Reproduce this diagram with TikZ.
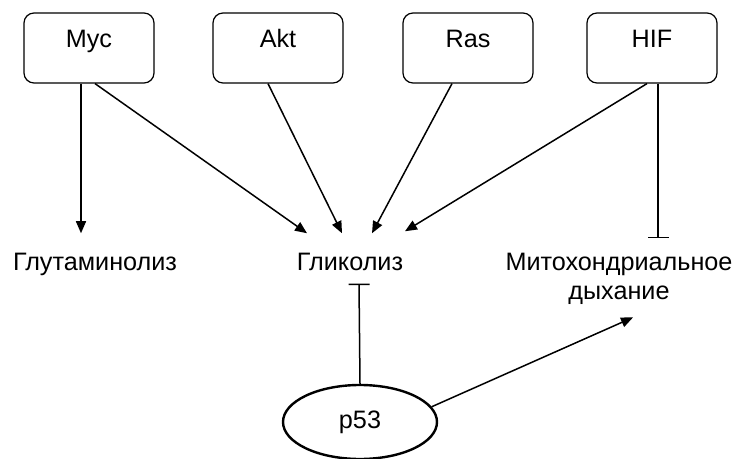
\documentclass[tikz,border=0pt]{standalone}
\usepackage{fontspec}
\setmainfont{Liberation Sans}
\usetikzlibrary{arrows.meta,shapes.geometric}
\begin{document}
\begin{tikzpicture}[x=0.5pt,y=-0.5pt,
    every node/.style={font=\fontsize{12.6}{14.5}\selectfont},
    gene/.style={draw,rounded corners=5pt,line width=0.6pt,minimum width=65pt,
        minimum height=35pt,text height=9pt,text depth=9pt},
    proc/.style={align=center,inner xsep=2pt,inner ysep=10pt},
    act/.style={line width=0.75pt,-{Triangle[length=6pt,width=5pt]}},
    inh/.style={line width=0.75pt,-{Bar[width=10.5pt,line width=0.75pt]}}]
    \useasboundingbox (0,0) rectangle (738,459);

    % Regulators
    \node[gene] (myc) at (89,48) {Myc};
    \node[gene] (akt) at (278,48) {Akt};
    \node[gene] (ras) at (468,48) {Ras};
    \node[gene] (hif) at (652,48) {HIF};

    % Processes
    \node[proc,anchor=base] (glut) at (95,271) {Глутаминолиз};
    \node[proc,anchor=base] (glyc) at (350,271) {Гликолиз};
    \node[proc,anchor=base] (mito) at (619,300) {Митохондриальное\\дыхание};

    % p53
    \node[draw,ellipse,line width=1.2pt,minimum width=77pt,minimum height=37pt,
        inner sep=0pt] (p53) at (360,422) {p53};

    % Activation
    \draw[act] ([xshift=-4pt]myc.south) -- ([xshift=-7pt]glut.north);
    \draw[act] ([xshift=3pt]myc.south) -- ([xshift=-21.5pt]glyc.north);
    \draw[act] ([xshift=-5pt]akt.south) -- ([xshift=-4pt]glyc.north);
    \draw[act] ([xshift=-8pt]ras.south) -- ([xshift=11pt]glyc.north);
    \draw[act] ([xshift=-2.5pt]hif.south) -- ([xshift=27.5pt,yshift=1pt]glyc.north);
    \draw[act] (p53.12) -- ([xshift=7pt,yshift=4pt]mito.south);

    % Inhibition
    \draw[inh] ([xshift=3pt]hif.south) -- ([xshift=19.5pt,yshift=-2.5pt]mito.north);
    \draw[inh] (p53.north) -- ([xshift=4.5pt,yshift=4pt]glyc.south);
\end{tikzpicture}
\end{document}
